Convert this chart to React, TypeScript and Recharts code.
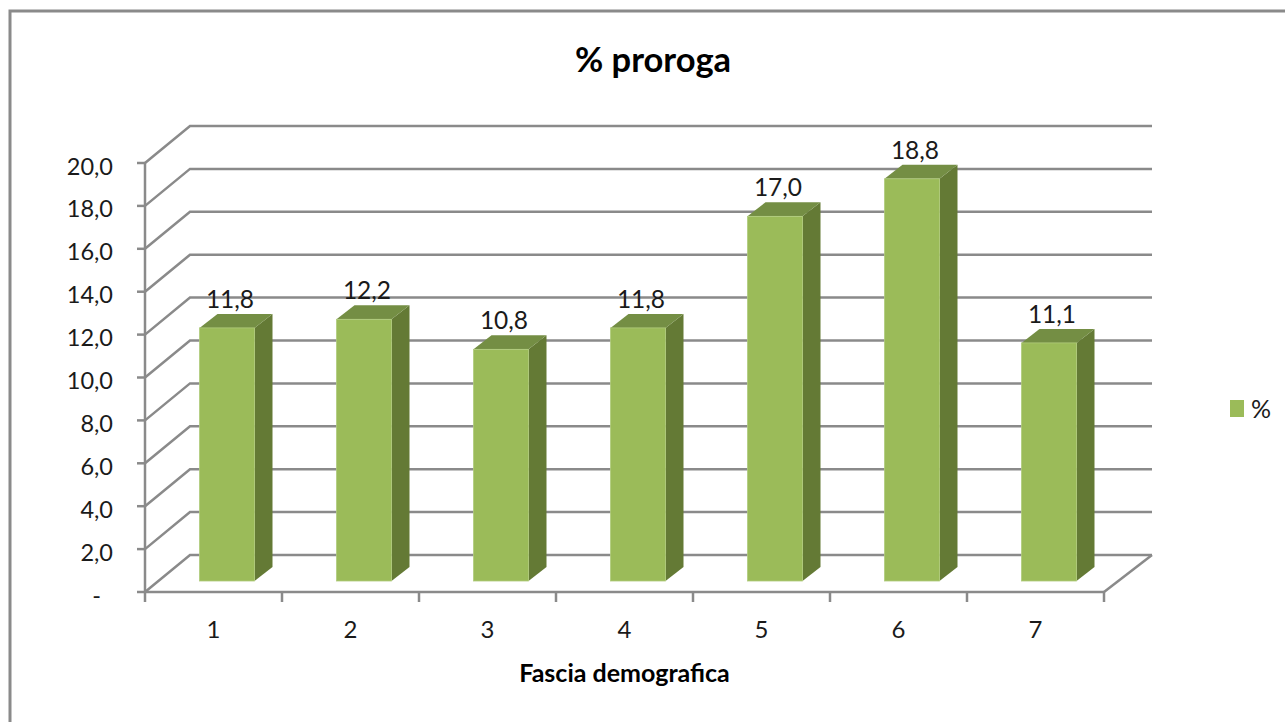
import {
  BarChart,
  Bar,
  XAxis,
  YAxis,
  CartesianGrid,
  Label,
  LabelList,
  Legend,
} from "recharts";

const categories = ["1", "2", "3", "4", "5", "6", "7"];
const percentValues = [11.8, 12.2, 10.8, 11.8, 17.0, 18.75, 11.1];
const yTicks = [0, 2, 4, 6, 8, 10, 12, 14, 16, 18, 20];

const chartData = categories.map((name, i) => ({ name, value: percentValues[i] }));

const FONT = "Lato, 'Noto Sans', sans-serif";
const AXIS_COLOR = "#8a8a8a";
const TEXT_COLOR = "#1a1a1a";
const PLOT_BOTTOM = 592;
const BAND_WIDTH = 137;

const formatValue = (v: number) => v.toFixed(1).replace(".", ",");

// fake 3D: floor/wall depth of the grid and of the bars
const WALL_DX = 45;
const WALL_DY = 37;
const BAR_SHIFT_X = 13.5;
const BAR_SHIFT_Y = 11;
const BAR_DX = 18;
const BAR_DY = 14;

function GridLine(props: any) {
  const { x1, x2, y1 } = props;
  const isFloor = y1 >= PLOT_BOTTOM - 1;
  return (
    <g>
      <polyline
        points={`${x1},${y1} ${x1 + WALL_DX},${y1 - WALL_DY} ${x2 + 48},${y1 - WALL_DY}`}
        fill="none"
        stroke={AXIS_COLOR}
        strokeWidth={2.5}
      />
      {isFloor && (
        <line
          x1={x2}
          y1={y1}
          x2={x2 + 48}
          y2={y1 - WALL_DY}
          stroke={AXIS_COLOR}
          strokeWidth={2.5}
        />
      )}
    </g>
  );
}

function Bar3D(props: any) {
  const { x, y, width, height } = props;
  const left = x + BAR_SHIFT_X;
  const right = left + width;
  const top = y - BAR_SHIFT_Y;
  const bottom = top + height;
  return (
    <g>
      <polygon
        points={`${right},${top} ${right + BAR_DX},${top - BAR_DY} ${right + BAR_DX},${bottom - BAR_DY} ${right},${bottom}`}
        fill="#647A35"
      />
      <polygon
        points={`${left},${top} ${left + BAR_DX},${top - BAR_DY} ${right + BAR_DX},${top - BAR_DY} ${right},${top}`}
        fill="#748E44"
      />
      <rect x={left} y={top} width={width} height={height} fill="#9BBB59" stroke="#B0CB7C" strokeWidth={0.8} />
    </g>
  );
}

function ValueLabel(props: any) {
  const { x, y, width, value } = props;
  return (
    <text
      x={x + width / 2 + 16.5}
      y={y - 31}
      textAnchor="middle"
      fontFamily={FONT}
      fontSize={24.5}
      fill={TEXT_COLOR}
    >
      {formatValue(value)}
    </text>
  );
}

function YTick(props: any) {
  const { x, y, payload } = props;
  const isZero = payload.value === 0;
  return (
    <text
      x={isZero ? x - 13 : x - 1}
      y={y + 11.5}
      textAnchor="end"
      fontFamily={FONT}
      fontSize={23.5}
      fill={TEXT_COLOR}
    >
      {isZero ? "-" : formatValue(payload.value)}
    </text>
  );
}

// tick marks sit on the category boundaries, not on the category centres
function XTick(props: any) {
  const { x, index, payload } = props;
  const left = x - BAND_WIDTH / 2;
  const isLast = index === categories.length - 1;
  return (
    <g>
      <line x1={left} y1={PLOT_BOTTOM} x2={left} y2={PLOT_BOTTOM + 10} stroke={AXIS_COLOR} strokeWidth={2.5} />
      {isLast && (
        <line
          x1={left + BAND_WIDTH}
          y1={PLOT_BOTTOM}
          x2={left + BAND_WIDTH}
          y2={PLOT_BOTTOM + 10}
          stroke={AXIS_COLOR}
          strokeWidth={2.5}
        />
      )}
      <text x={x} y={PLOT_BOTTOM + 46} textAnchor="middle" fontFamily={FONT} fontSize={24} fill={TEXT_COLOR}>
        {payload.value}
      </text>
    </g>
  );
}

function LegendContent(props: any) {
  const item = props.payload?.[0];
  return (
    <div style={{ display: "flex", alignItems: "center", fontFamily: FONT, fontSize: 25, color: TEXT_COLOR }}>
      <span style={{ width: 14, height: 17, background: "#9BBB59", marginRight: 7 }} />
      <span>{item?.value}</span>
    </div>
  );
}

export default function App() {
  return (
    <div style={{ position: "absolute", left: 0, top: 0, width: 1285, height: 722, background: "#fff" }}>
      <BarChart
        width={1285}
        height={722}
        data={chartData}
        margin={{ top: 163, right: 181, bottom: 30, left: 85 }}
      >
        <rect x={10} y={11} width={1400} height={900} fill="none" stroke={AXIS_COLOR} strokeWidth={3} />
        <text
          x={653}
          y={72}
          textAnchor="middle"
          fontFamily={FONT}
          fontWeight={700}
          fontSize={34.5}
          fill="#000"
        >
          % proroga
        </text>
        <CartesianGrid vertical={false} horizontal={GridLine} />
        <XAxis
          dataKey="name"
          height={100}
          tickLine={false}
          axisLine={{ stroke: AXIS_COLOR, strokeWidth: 2.5 }}
          tick={<XTick />}
        >
          <Label
            value="Fascia demografica"
            position="insideBottom"
            offset={10}
            style={{ fontFamily: FONT, fontSize: 25, fontWeight: 700, fill: "#000" }}
          />
        </XAxis>
        <YAxis
          width={60}
          domain={[0, 20]}
          ticks={yTicks}
          interval={0}
          tickSize={8}
          axisLine={{ stroke: AXIS_COLOR, strokeWidth: 2.5 }}
          tickLine={{ stroke: AXIS_COLOR, strokeWidth: 2.5 }}
          tick={<YTick />}
          tickMargin={23}
        />
        <Legend
          layout="vertical"
          align="center"
          verticalAlign="middle"
          content={<LegendContent />}
          wrapperStyle={{ left: 1230, top: 393, width: 50 }}
        />
        <Bar dataKey="value" name="%" barSize={55} fill="#9BBB59" shape={<Bar3D />} isAnimationActive={false}>
          <LabelList dataKey="value" content={<ValueLabel />} />
        </Bar>
      </BarChart>
    </div>
  );
}
